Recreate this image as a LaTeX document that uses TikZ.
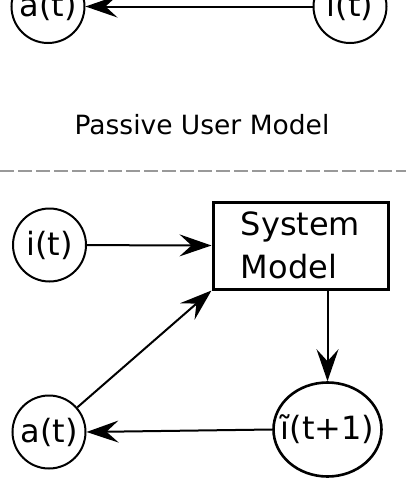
\documentclass[tikz,border=0pt]{standalone}
\usepackage{fontspec}
\setmainfont{DejaVu Sans}
\usetikzlibrary{arrows.meta,shapes.geometric}
\begin{document}
\begin{tikzpicture}[x=1pt,y=-1pt,
  state/.style={draw,circle,line width=2pt,minimum size=73pt,inner sep=0pt,font=\fontsize{32}{38}\selectfont},
  estate/.style={draw,ellipse,line width=2.6pt,minimum width=108pt,minimum height=94pt,inner sep=0pt,font=\fontsize{32}{38}\selectfont},
  model/.style={draw,rectangle,line width=3pt,minimum width=175pt,minimum height=87pt,inner sep=0pt,align=left,font=\fontsize{32}{43}\selectfont},
  arr/.style={line width=2pt,-{Stealth[length=32pt,width=22pt,inset=12pt]}},
  sep/.style={draw=black!40,line width=2pt,dash pattern=on 14pt off 4pt},
  caption/.style={font=\fontsize{26.5}{30}\selectfont}]
\useasboundingbox (0,0) rectangle (406,482);
% top: passive user model
\node[state] (a1) at (48,6.5) {\makebox[0pt]{a(t)}};
\node[state] (i1) at (350,6.5) {\makebox[0pt]{i(t)}};
\draw[arr] (i1) -- (a1);
\node[caption] (cap) at (202,125) {Passive User Model};
\coordinate (sl) at (0,171);
\coordinate (sr) at (406,171);
\draw[sep] (sl) -- (sr);
% bottom: system model
\node[state] (i2) at (49.5,245) {\makebox[0pt]{i(t)}};
\node[model] (sm) at (300.5,245.5) {System\\Model};
\node[estate] (ti) at (327.5,429.5) {\makebox[0pt]{ĩ(t+1)}};
\node[state] (a2) at (49,432) {\makebox[0pt]{a(t)}};
\draw[arr] (i2) -- (sm.west);
\draw[arr] (sm.south -| ti.north) -- (ti.north);
\draw[arr] (ti.west) -- (a2.east);
\draw[arr] (a2) -- (sm.south west);
\end{tikzpicture}
\end{document}
